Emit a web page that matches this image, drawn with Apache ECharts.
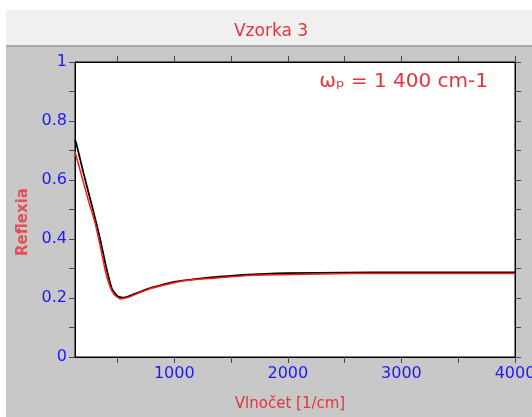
<!DOCTYPE html>
<html>
<head>
<meta charset="utf-8">
<script src="https://cdn.jsdelivr.net/npm/echarts@6/dist/echarts.min.js"></script>
<style>
  html, body { margin: 0; padding: 0; background: #fff; }
  #chart { width: 532px; height: 417px; }
</style>
</head>
<body>
<div id="chart"></div>
<script>
// wavenumbers [1/cm] and reflectivity
var waveBlack = [126, 140, 200, 250, 300, 350, 400, 450, 500, 550, 600, 700, 800, 1000, 1200, 1400, 1600, 1800, 2000, 2500, 3000, 3500, 4000];
var reflBlack = [0.736, 0.72, 0.625, 0.55, 0.475, 0.395, 0.305, 0.232, 0.206, 0.201, 0.206, 0.221, 0.235, 0.255, 0.265, 0.272, 0.278, 0.282, 0.284, 0.286, 0.287, 0.287, 0.287];
var waveRed = [126, 150, 200, 250, 300, 350, 391, 435, 470, 523, 550, 600, 700, 800, 1000, 1141, 1344, 1609, 1800, 2288, 2553, 3000, 3500, 4000];
var reflRed = [0.695, 0.662, 0.592, 0.522, 0.458, 0.372, 0.295, 0.237, 0.212, 0.197, 0.198, 0.203, 0.219, 0.233, 0.252, 0.261, 0.267, 0.275, 0.278, 0.281, 0.283, 0.283, 0.283, 0.283];
var xTicks = [500, 1000, 1500, 2000, 2500, 3000, 3500, 4000];
var xLabels = [1000, 2000, 3000, 4000];
var yLabels = [0, 0.2, 0.4, 0.6, 0.8, 1];

function pairs(xs, ys) {
  var out = []
  for (var i = 0; i < xs.length; i++) out.push([xs[i], ys[i]])
  return out
}

var chart = echarts.init(document.getElementById('chart'))
var blue = '#1a1aff'
var red = '#e8333b'
var font = 'DejaVu Sans'

var xBase = {
  type: 'value', min: 126, max: 4000,
  axisLine: { show: true, onZero: false, lineStyle: { color: '#000', width: 1 } },
  axisTick: { show: true, inside: false, length: 6, customValues: xTicks, lineStyle: { color: '#3a4a5a' } },
  splitLine: { show: false }
}
var yBase = {
  type: 'value', min: 0, max: 1, interval: 0.1,
  axisLine: { show: true, onZero: false, lineStyle: { color: '#000', width: 1 } },
  axisTick: { show: true, inside: false, length: 6, lineStyle: { color: '#3a4a5a' } },
  splitLine: { show: false }
}

const option = {
  backgroundColor: '#c8c8c8',
  animation: false,
  title: {
    text: 'Vzorka 3', left: 266, top: 18, textAlign: 'center',
    textStyle: { color: red, fontFamily: font, fontSize: 17, fontWeight: 'normal' }
  },
  grid: { left: 75, top: 62, right: 17, bottom: 60, show: true, backgroundColor: '#fff', borderColor: '#000', borderWidth: 1, outerBoundsMode: 'none', containLabel: false },
  xAxis: [
    Object.assign({}, xBase, {
      position: 'bottom',
      axisLabel: { customValues: xLabels, color: blue, fontFamily: font, fontSize: 16, margin: 9,
        formatter: function (v) { return String(v) } }
    }),
    Object.assign({}, xBase, { position: 'top', axisLabel: { show: false } })
  ],
  yAxis: [
    Object.assign({}, yBase, {
      position: 'left',
      axisLabel: { customValues: yLabels, color: blue, fontFamily: font, fontSize: 16, margin: 8,
        formatter: function (v) { return String(Math.round(v * 10) / 10) } }
    }),
    Object.assign({}, yBase, { position: 'right', axisLabel: { show: false } })
  ],
  graphic: [
    { type: 'rect', shape: { x: 0, y: 0, width: 532, height: 10 }, style: { fill: '#fff' }, silent: true },
    { type: 'rect', shape: { x: 0, y: 0, width: 6, height: 417 }, style: { fill: '#fff' }, silent: true },
    { type: 'rect', shape: { x: 6, y: 10, width: 526, height: 35 }, style: { fill: '#f0f0f0' }, silent: true, z: -1 },
    { type: 'rect', shape: { x: 6, y: 45, width: 526, height: 2 }, style: { fill: '#a9a9a9' }, silent: true },
    { type: 'text', x: 488, y: 82, style: { text: 'ωₚ = 1 400 cm-1', fill: red, font: '20px "DejaVu Sans"', textAlign: 'right', textVerticalAlign: 'middle' } },
    { type: 'text', x: 290, y: 404, style: { text: 'Vlnočet [1/cm]', fill: red, font: '15px "DejaVu Sans"', textAlign: 'center', textVerticalAlign: 'middle' } },
    { type: 'text', x: 23, y: 222, rotation: Math.PI / 2, style: { text: 'Reflexia', fill: red, font: 'bold 15px "DejaVu Sans"', textAlign: 'center', textVerticalAlign: 'middle', opacity: 0.8 } }
  ],
  series: [
    {
      name: 'black', type: 'line', data: pairs(waveBlack, reflBlack),
      showSymbol: false, smooth: 0.15, lineStyle: { color: '#000', width: 1.8 }, z: 2
    },
    {
      name: 'red', type: 'line', data: pairs(waveRed, reflRed),
      showSymbol: false, smooth: 0.15, lineStyle: { color: '#ff1a1a', width: 1.5 }, z: 3
    }
  ]
}
chart.setOption(option)
</script>
</body>
</html>
